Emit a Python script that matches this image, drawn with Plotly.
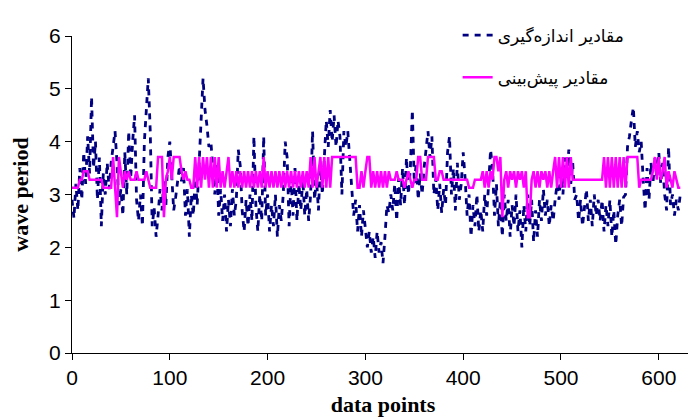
import plotly.graph_objects as go

# data point index (every second point)
idx = list(range(0, 624, 2))

measured = [
    2.9, 2.55, 3.2, 2.7, 3.5, 2.9, 3.8, 3.2, 4.1, 3.4,
    4.85, 3.5, 4.0, 2.9, 3.7, 2.4, 3.4, 3.0, 3.6, 3.1,
    3.6, 3.9, 4.2, 3.6, 2.8, 3.1, 2.6, 3.8, 3.0, 4.2,
    3.3, 4.0, 4.5, 2.9, 2.5, 3.0, 2.4, 4.0, 4.6, 5.2,
    4.2, 2.4, 2.75, 2.2, 2.6, 3.1, 2.7, 3.3, 2.8, 3.7,
    4.0, 3.2, 2.7, 2.95, 3.3, 3.55, 3.25, 3.5, 2.6, 3.1,
    2.2, 3.0, 2.6, 3.3, 2.8, 3.5, 4.4, 5.2, 4.6, 4.3,
    3.9, 4.0, 3.5, 3.0, 3.6, 2.6, 3.1, 2.5, 3.0, 2.3,
    2.9, 2.4, 3.1, 2.6, 2.9, 3.85, 3.55, 2.7, 2.3, 2.9,
    2.4, 3.0, 2.5, 4.1, 2.8, 2.3, 3.0, 2.5, 4.1, 2.6,
    3.0, 2.3, 2.8, 2.4, 3.0, 2.2, 2.8, 2.5, 3.0, 4.0,
    3.7, 2.4, 3.3, 2.6, 3.5, 2.5, 3.2, 2.7, 3.3, 2.6,
    3.1, 2.5, 3.0, 4.2, 2.9, 3.3, 2.7, 3.6, 3.0, 3.6,
    4.4, 3.9, 4.6, 4.0, 4.5, 3.9, 4.4, 4.1, 3.0, 4.2,
    3.9, 4.2, 3.6, 3.0, 2.6, 2.9, 2.3, 2.8, 2.2, 2.7,
    2.4, 2.0, 2.3, 1.9, 2.2, 1.8, 2.3, 1.9, 2.1, 1.7,
    2.2, 2.8, 2.65, 3.0, 2.7, 3.2, 2.5, 3.3, 2.8, 3.5,
    2.8, 3.7, 3.0, 3.5, 4.6, 3.2, 3.6, 2.9, 3.4, 3.0,
    3.5, 3.8, 4.2, 3.7, 4.1, 3.0, 3.3, 2.7, 3.2, 2.65,
    3.1, 2.8, 3.8, 4.1, 3.0, 3.5, 2.7, 3.6, 2.9, 3.2,
    3.8, 3.3, 2.6, 3.0, 2.2, 2.8, 2.4, 3.0, 2.3, 2.7,
    2.3, 3.0, 2.6, 3.2, 3.85, 3.5, 2.6, 3.2, 2.4, 2.9,
    2.2, 3.0, 2.5, 2.9, 2.2, 2.8, 2.4, 3.0, 2.3, 2.7,
    2.0, 2.8, 2.3, 3.0, 2.4, 2.9, 2.1, 2.7, 2.2, 2.9,
    2.5, 3.1, 2.6, 2.9, 2.4, 2.8, 2.5, 2.9, 3.2, 2.9,
    3.5, 3.0, 3.7, 3.3, 3.85, 3.2, 3.6, 2.9, 3.0, 2.5,
    2.9, 2.4, 2.8, 3.1, 2.5, 2.9, 2.4, 3.0, 2.6, 2.9,
    2.5, 2.9, 2.3, 2.8, 2.4, 2.9, 2.2, 2.7, 2.05, 2.6,
    2.9, 2.4, 2.95, 3.0, 3.9, 4.1, 4.4, 4.65, 3.9, 4.2,
    3.8, 4.0, 3.3, 2.7, 3.5, 2.9, 3.6, 3.2, 3.7, 3.3,
    3.8, 3.2, 3.6, 3.0, 2.7, 3.9, 2.8, 3.0, 2.6, 2.9,
    2.7, 3.0,
]

predicted = [
    3.13, 3.13, 3.13, 3.13, 3.28, 3.28, 3.44, 3.44, 3.44, 3.28,
    3.28, 3.28, 3.28, 3.28, 3.28, 3.28, 3.13, 3.13, 3.13, 3.13,
    3.13, 3.71, 3.13, 2.57, 3.71, 3.44, 3.13, 3.44, 3.28, 3.44,
    3.28, 3.28, 3.28, 3.44, 3.28, 3.28, 3.28, 3.28, 3.44, 3.28,
    3.13, 3.13, 3.13, 3.13, 3.71, 3.71, 3.71, 2.57, 3.28, 3.44,
    3.71, 3.28, 3.71, 3.71, 3.71, 3.71, 3.44, 3.28, 3.44, 3.28,
    3.28, 3.13, 3.13, 3.71, 3.13, 3.71, 3.13, 3.71, 3.28, 3.71,
    3.13, 3.71, 3.13, 3.71, 3.13, 3.71, 3.13, 3.44, 3.13, 3.44,
    3.71, 3.13, 3.44, 3.13, 3.44, 3.13, 3.44, 3.13, 3.44, 3.13,
    3.44, 3.13, 3.44, 3.13, 3.44, 3.13, 3.44, 3.13, 3.71, 3.13,
    3.44, 3.13, 3.44, 3.13, 3.44, 3.13, 3.44, 3.13, 3.44, 3.13,
    3.44, 3.13, 3.44, 3.13, 3.44, 3.13, 3.44, 3.13, 3.44, 3.13,
    3.44, 3.13, 3.71, 3.13, 3.71, 3.13, 3.44, 3.71, 3.13, 3.71,
    3.13, 3.71, 3.13, 3.71, 3.71, 3.71, 3.71, 3.71, 3.71, 3.71,
    3.71, 3.71, 3.71, 3.71, 3.71, 3.71, 3.13, 3.13, 3.44, 3.13,
    3.44, 3.71, 3.71, 3.13, 3.44, 3.13, 3.44, 3.13, 3.44, 3.13,
    3.44, 3.13, 3.44, 3.28, 3.28, 3.28, 3.44, 3.28, 3.28, 3.28,
    3.13, 3.28, 3.44, 3.28, 3.13, 3.28, 3.28, 3.71, 3.71, 3.28,
    3.28, 3.28, 3.71, 3.71, 3.71, 3.71, 3.28, 3.28, 3.44, 3.44,
    3.28, 3.28, 3.28, 3.28, 3.28, 3.28, 3.28, 3.28, 3.28, 3.28,
    3.28, 3.28, 3.28, 3.13, 3.13, 3.13, 3.28, 3.28, 3.28, 3.28,
    3.44, 3.13, 3.44, 3.13, 3.44, 3.28, 3.71, 3.71, 3.44, 3.71,
    2.57, 3.28, 3.44, 3.13, 3.44, 3.28, 3.44, 3.13, 3.44, 3.28,
    3.44, 3.13, 3.44, 2.57, 2.57, 3.28, 3.44, 3.13, 3.44, 3.13,
    3.44, 3.28, 3.44, 3.13, 3.44, 3.13, 3.44, 3.71, 3.13, 3.71,
    3.13, 3.71, 3.13, 3.71, 3.13, 3.71, 3.28, 3.28, 3.28, 3.28,
    3.28, 3.28, 3.28, 3.28, 3.28, 3.28, 3.28, 3.28, 3.28, 3.28,
    3.28, 3.28, 3.71, 3.13, 3.71, 3.13, 3.71, 3.13, 3.71, 3.13,
    3.71, 3.13, 3.71, 3.13, 3.71, 3.71, 3.71, 3.71, 3.71, 3.71,
    3.13, 3.28, 3.28, 3.28, 3.28, 3.28, 3.28, 3.44, 3.71, 3.28,
    3.71, 3.28, 3.44, 3.71, 3.13, 3.44, 3.28, 3.13, 3.44, 3.28,
    3.13, 3.13,
]

name_measured = "مقادیر اندازه\u200cگیری"
name_predicted = "مقادیر پیش\u200cبینی"

x_ticks = [0, 100, 200, 300, 400, 500, 600]
y_ticks = [0, 1, 2, 3, 4, 5, 6]

fig = go.Figure()
fig.add_trace(go.Scatter(
    x=idx, y=measured, mode="lines", name=name_measured,
    line=dict(color="#000080", width=2.8, dash="6px,6px"),
    legendgroup="a",
))
fig.add_trace(go.Scatter(
    x=idx, y=predicted, mode="lines", name=name_predicted,
    line=dict(color="#FF00FF", width=2.5),
    legendgroup="b",
))

tick_font = dict(family="Liberation Sans, Arial, sans-serif", size=21, color="black")
title_font = dict(family="Liberation Serif, Times New Roman, serif", size=22, color="black")

fig.update_layout(
    width=696, height=417,
    margin=dict(l=64, r=10, t=14, b=72),
    paper_bgcolor="white", plot_bgcolor="white",
    showlegend=True,
    legend=dict(
        x=0.62, y=1.058, xanchor="left", yanchor="top",
        font=dict(family="DejaVu Sans, sans-serif", size=17, color="black"),
        bgcolor="rgba(0,0,0,0)", borderwidth=0,
        traceorder="grouped", tracegroupgap=17,
    ),
    xaxis=dict(
        range=[0, 636], tickvals=x_ticks, ticktext=[str(v) for v in x_ticks],
        showgrid=False, zeroline=False, showline=True, linecolor="black", linewidth=1,
        ticks="outside", ticklen=6, tickcolor="black", tickfont=tick_font,
        automargin=False,
        title=dict(text="<b>data points</b>", font=title_font, standoff=8),
    ),
    yaxis=dict(
        range=[0, 6], tickvals=y_ticks, ticktext=[str(v) for v in y_ticks],
        showgrid=False, zeroline=False, showline=True, linecolor="black", linewidth=1,
        ticks="outside", ticklen=6, tickcolor="black", tickfont=tick_font,
        automargin=False,
        title=dict(text="<b>wave period</b>", font=title_font, standoff=22),
    ),
)

fig.write_html("out.html")
